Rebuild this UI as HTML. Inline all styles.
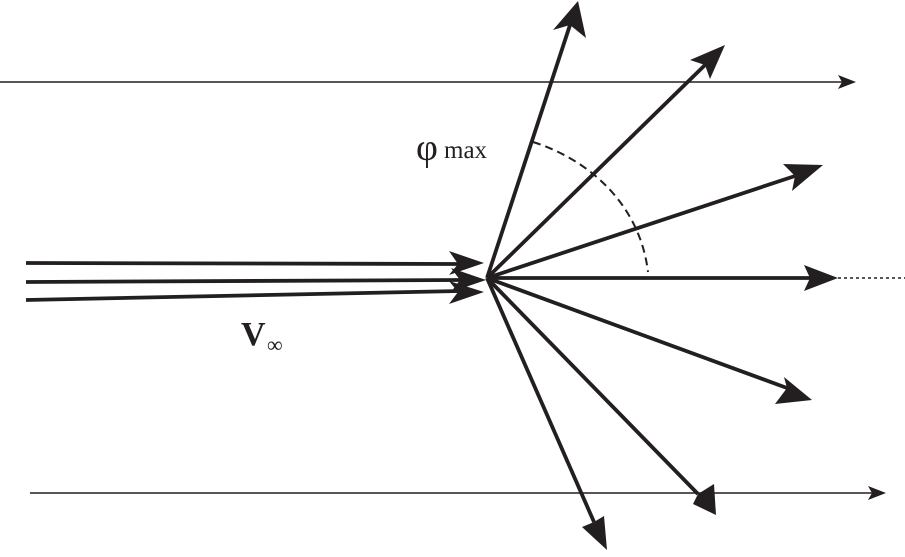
<!DOCTYPE html>
<html><head><style>html,body{margin:0;padding:0;background:#fff;width:905px;height:557px;overflow:hidden}
.t{font-family:"Liberation Serif",serif;fill:#231f20}</style></head>
<body>
<svg width="905" height="557" viewBox="0 0 905 557" xmlns="http://www.w3.org/2000/svg">
<g stroke="#231f20" fill="none">
<line x1="0" y1="82" x2="845" y2="82" stroke-width="1.6"/>
<line x1="30" y1="493" x2="875" y2="493" stroke-width="1.6"/>
<line x1="838" y1="278" x2="905" y2="278" stroke-width="1.6" stroke-dasharray="3,3"/>
<path d="M533,142 C590,160 640,205 648,272" stroke-width="2" stroke-dasharray="8,5"/>
<g stroke-width="3.8">
<line x1="26" y1="263" x2="460" y2="264"/>
<line x1="26" y1="282" x2="460" y2="280"/>
<line x1="26" y1="300" x2="460" y2="291"/>
<line x1="487" y1="278" x2="570" y2="25"/>
<line x1="487" y1="278" x2="705" y2="65"/>
<line x1="487" y1="278" x2="795" y2="176"/>
<line x1="487" y1="278" x2="810" y2="278"/>
<line x1="487" y1="278" x2="787" y2="388"/>
<line x1="487" y1="278" x2="698" y2="494"/>
<line x1="487" y1="278" x2="594" y2="522"/>
</g>
</g>
<g fill="#231f20">
<polygon points="856,82 838,75 842,82 838,89"/>
<polygon points="886,493 868,486 872,493 868,500"/>
<polygon points="484,263 449,251 458,264 449,275"/>
<polygon points="486,280 451,268 460,280 451,292"/>
<polygon points="484,292 449,281 458,292 449,304"/>
<polygon points="578,1 586,38 570,25 553,30"/>
<polygon points="725,45 710,79 705,65 690,60"/>
<polygon points="823,165 792,191 795,176 783,164"/>
<polygon points="838,278 804,291 810,278 804,265"/>
<polygon points="812,400 775,404 787,388 784,377"/>
<polygon points="716,515 693,504 698,494 714,484"/>
<polygon points="607,550 582,527 594,522 604,516"/>
</g>
<text x="416" y="160" class="t" style="font-size:38px">φ</text>
<text x="444" y="158" class="t" style="font-size:25px">max</text>
<text x="241" y="345" class="t" style="font-size:34px;font-weight:bold">V</text>
<text x="267" y="352" class="t" style="font-size:22px">∞</text>
</svg>
</body></html>
